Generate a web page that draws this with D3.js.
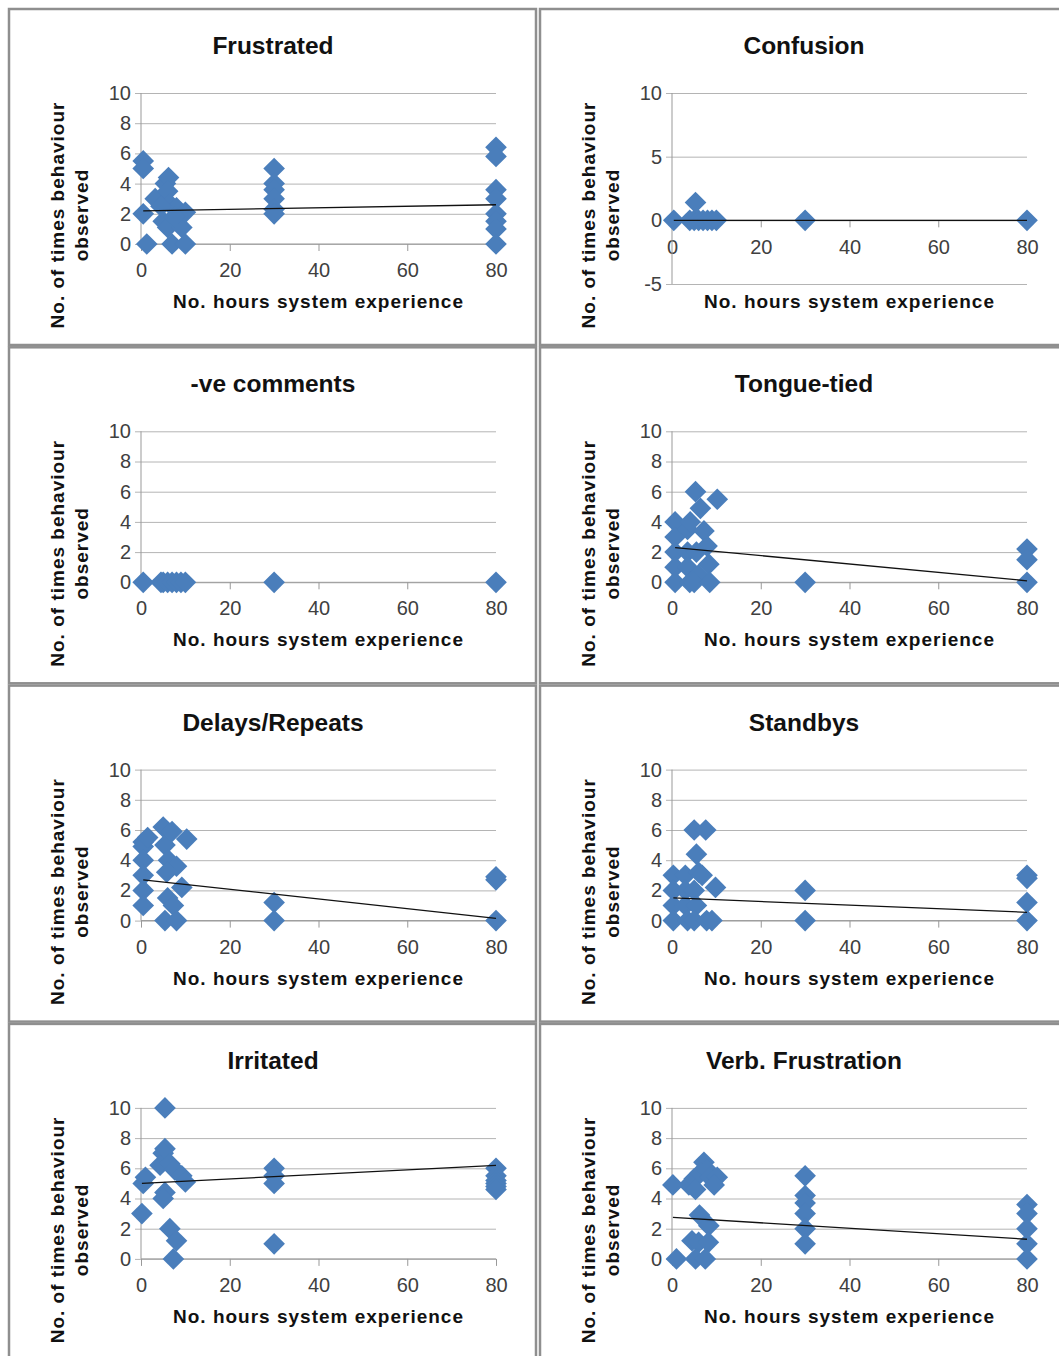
<!DOCTYPE html>
<html>
<head>
<meta charset="utf-8">
<script src="https://cdn.jsdelivr.net/npm/d3@7"></script>
<style>
  body { margin: 0; background: #fff; }
  text { font-family: "Liberation Sans", Arial, sans-serif; }
</style>
</head>
<body>
<script>
// ---- data ----
const titles = ["Frustrated", "Confusion", "-ve comments", "Tongue-tied",
                "Delays/Repeats", "Standbys", "Irritated", "Verb. Frustration"];

const xTicks = [0, 20, 40, 60, 80];
const yTicksStd = [0, 2, 4, 6, 8, 10];
const yTicksConfusion = [-5, 0, 5, 10];

const frustrated = [[0.5,5.5],[0.5,5],[0.5,2],[1.3,0],[3.2,3],[5,1.5],[5.5,4],[6.2,4.4],[6,3.5],
  [6.5,2.65],[6,1.1],[7,0],[8,2.4],[9.2,1.1],[10,2.1],[10,0],[7.5,1.8],[4.5,2.5],
  [30,5],[30,4],[30,3.6],[30,3],[30,2.3],[30,2],
  [80,6.4],[80,5.8],[80,3.6],[80,3],[80,2],[80,1.5],[80,1],[80,0]];
const confusion = [[0.4,0],[4,0],[5,0],[5.3,1.4],[6,0],[7,0],[8,0],[9,0],[10,0],[30,0],[80,0]];
const negComments = [[0.5,0],[4.5,0],[5,0],[6,0],[7,0],[8,0],[9,0],[10,0],[30,0],[80,0]];
const tongueTied = [[0.7,4],[0.7,3],[0.7,2],[0.7,1],[0.7,0],[3.5,3.5],[3.5,2],[3.5,1],[4,0],
  [5.3,6],[6.4,4.9],[4.1,4],[7.2,3.4],[7.9,2.4],[8.3,1.2],[5.5,2],[6,0.5],[5,0],[8.5,0],[10.2,5.5],
  [30,0],[80,2.2],[80,1.5],[80,0]];
const delays = [[0.5,5.2],[0.5,4.9],[0.5,4],[0.5,3],[0.5,2],[0.5,1],[1.5,5.5],[5,6.2],[5.4,5],
  [7,5.9],[6.2,4],[8,3.6],[5.8,3.2],[9.2,2.2],[6,1.5],[7.3,1],[5.4,0],[8,0],[10.3,5.4],
  [30,1.2],[30,0],[80,2.9],[80,2.7],[80,0]];
const standbys = [[0.3,3],[0.3,2],[0.3,1],[0.3,0],[3,3],[3,2],[3,1],[3.5,0],[5,6],[7.6,6],
  [5.5,4.4],[6,3.2],[6.8,3],[9.8,2.2],[5,2],[5.5,1],[5,0],[7.8,0],[9,0],
  [30,2],[30,0],[80,3],[80,2.8],[80,1.2],[80,0]];
const irritated = [[0.5,5],[1,5.4],[0.2,3],[5.4,10],[5.4,7.3],[5,7],[4.3,6.2],[6.5,6.3],[7.6,5.9],
  [9.2,5.5],[10,5.1],[5.4,4.4],[5,4],[6.5,2],[8,1.2],[7.3,0],
  [30,6],[30,5.5],[30,5],[30,1],[80,6],[80,5.5],[80,5.2],[80,5],[80,4.8],[80,4.6]];
const verbFrustration = [[0.2,4.9],[1,0],[3.8,4.9],[5,5.3],[5.3,4.6],[7.2,6.4],[6.4,5.7],[7.9,5.9],
  [8.6,5.4],[10.2,5.4],[9.5,4.9],[6.2,2.9],[8.3,2.2],[4.5,1.2],[6,1.1],[8.2,1.1],[5.3,0],[7.5,0],
  [30,5.5],[30,4.2],[30,3.7],[30,3],[30,2],[30,1],[80,3.6],[80,3],[80,2],[80,1],[80,0]];

// trend line values at the first and last x of each series (null = no line)
const trendStart = [2.2, 0, null, 2.3, 2.7, 1.5, 5.0, 2.75];
const trendEnd   = [2.6, 0, null, 0.1, 0.15, 0.55, 6.2, 1.3];

const series = [frustrated, confusion, negComments, tongueTied, delays, standbys, irritated, verbFrustration];

// ---- drawing ----
const svg = d3.select("body").append("svg")
    .attr("width", 1059)
    .attr("height", 1356);

const diamond = d3.symbol().type(d3.symbolSquare).size(235);

series.forEach(function (data, i) {
    var col = i % 2, row = Math.floor(i / 2);
    var fx = 9 + col * 531, fy = 9 + row * 338.3;
    var isConf = i === 1;
    var yDomain = isConf ? [-5, 10] : [0, 10];
    var yTicks = isConf ? yTicksConfusion : yTicksStd;
    var bottom = isConf ? 275 : 235;

    var g = svg.append("g").attr("transform", "translate(" + fx + "," + fy + ")");

    g.append("rect")
        .attr("width", 527).attr("height", 336)
        .attr("fill", "#fff")
        .attr("stroke", "#8f8f8f")
        .attr("stroke-width", 2.5);

    var x = d3.scaleLinear().domain([0, 80]).range([132, 487]);
    var y = d3.scaleLinear().domain(yDomain).range([bottom, 84]);

    // title
    g.append("text")
        .attr("x", 264).attr("y", 45)
        .attr("text-anchor", "middle")
        .style("font-size", "24.5px").style("font-weight", "bold")
        .attr("fill", "#111")
        .text(titles[i]);

    // y axis with gridlines
    var yAxis = g.append("g")
        .attr("transform", "translate(132,0)")
        .call(d3.axisLeft(y).tickValues(yTicks).tickSize(-355).tickPadding(10)
            .tickFormat(function (d) { return String(d); }));
    yAxis.select(".domain").remove();
    yAxis.selectAll(".tick line").attr("x1", -6).attr("x2", 355).attr("stroke", "#b4b4b4");
    yAxis.selectAll(".tick text")
        .style("font-size", "20px").style("font-family", "'Liberation Sans', Arial, sans-serif")
        .attr("fill", "#404040");

    // x axis at y = 0
    var xAxis = g.append("g")
        .attr("transform", "translate(0," + y(0) + ")")
        .call(d3.axisBottom(x).tickValues(xTicks).tickSize(7).tickPadding(12));
    xAxis.select(".domain").remove();
    xAxis.selectAll(".tick line").attr("stroke", "#999");
    xAxis.selectAll(".tick text")
        .style("font-size", "20px").style("font-family", "'Liberation Sans', Arial, sans-serif")
        .attr("fill", "#404040");
    g.append("line")
        .attr("x1", x(0)).attr("x2", x(80))
        .attr("y1", y(0)).attr("y2", y(0))
        .attr("stroke", "#999");
    g.append("line")
        .attr("x1", x(0)).attr("x2", x(0))
        .attr("y1", y(yDomain[1])).attr("y2", y(yDomain[0]))
        .attr("stroke", "#999");

    // axis titles
    g.append("text")
        .attr("x", 309.5).attr("y", 299)
        .attr("text-anchor", "middle")
        .style("font-size", "19px").style("font-weight", "bold").style("letter-spacing", "1px")
        .attr("fill", "#111")
        .text("No. hours system experience");
    g.append("text")
        .attr("transform", "translate(54.5,206) rotate(-90)")
        .attr("text-anchor", "middle")
        .style("font-size", "19px").style("font-weight", "bold").style("letter-spacing", "1px")
        .attr("fill", "#111")
        .text("No. of times behaviour");
    g.append("text")
        .attr("transform", "translate(79,206) rotate(-90)")
        .attr("text-anchor", "middle")
        .style("font-size", "19px").style("font-weight", "bold").style("letter-spacing", "1px")
        .attr("fill", "#111")
        .text("observed");

    // markers
    g.append("g").selectAll("path")
        .data(data)
        .join("path")
        .attr("d", diamond)
        .attr("transform", function (d) { return "translate(" + x(d[0]) + "," + y(d[1]) + ") rotate(45)"; })
        .attr("fill", "#4a7ebb");

    // linear trend line
    if (trendStart[i] !== null) {
        var ext = d3.extent(data, function (d) { return d[0]; });
        var line = d3.line()
            .x(function (d) { return x(d[0]); })
            .y(function (d) { return y(d[1]); });
        g.append("path")
            .datum([[ext[0], trendStart[i]], [ext[1], trendEnd[i]]])
            .attr("d", line)
            .attr("fill", "none")
            .attr("stroke", "#111")
            .attr("stroke-width", 1.3);
    }
});
</script>
</body>
</html>
